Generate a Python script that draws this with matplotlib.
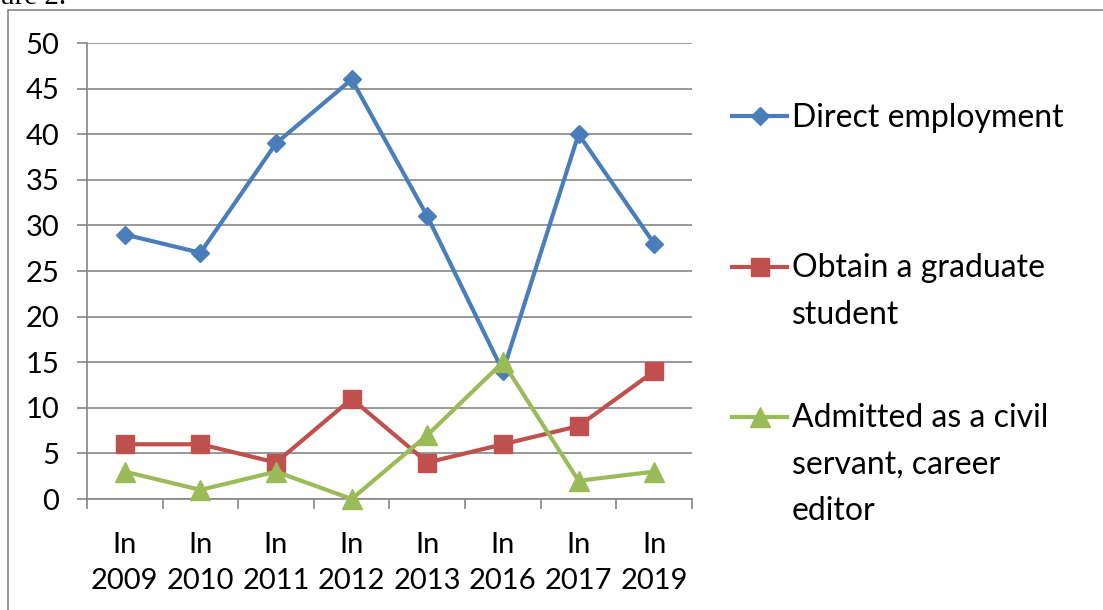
import matplotlib
matplotlib.use('Agg')
import matplotlib.pyplot as plt
from matplotlib.lines import Line2D
from matplotlib.patches import Rectangle

plt.rcParams['font.family'] = ['Lato', 'DejaVu Sans']

years = ['2009', '2010', '2011', '2012', '2013', '2016', '2017', '2019']
direct = [29, 27, 39, 46, 31, 14, 40, 28]
graduate = [6, 6, 4, 11, 4, 6, 8, 14]
civil = [3, 1, 3, 0, 7, 15, 2, 3]

labels = ['Direct employment', 'Obtain a graduate\nstudent',
          'Admitted as a civil\nservant, career\neditor']
colors = ['#4A7EBB', '#C0504D', '#9BBB59']
markers = ['D', 's', '^']
msizes = [9, 13, 14]
grey = '#868686'

W, H = 1103, 610
fig = plt.figure(figsize=(W / 100, H / 100), dpi=100)

# chart frame (runs off the right/bottom edge in the original)
fig.patches.append(Rectangle((8 / W, -0.1), 1.2, 1 - 10 / H + 0.1, transform=fig.transFigure,
                             fill=False, edgecolor=grey, linewidth=1.2))
fig.text(0.0, 1 - 4 / H, 'ure 2.', family='Liberation Serif', fontsize=21, va='baseline')

ax = fig.add_axes([87 / W, 1 - 499 / H, (692 - 87) / W, (499 - 43) / H])
xs = [i + 0.5 for i in range(len(years))]
series = [direct, graduate, civil]
for vals, c, m, ms in zip(series, colors, markers, msizes):
    ax.plot(xs, vals, color=c, marker=m, markersize=ms, linewidth=3, clip_on=False, zorder=3)

ax.set_xlim(0, len(years))
ax.set_ylim(0, 50)
ax.set_yticks(range(0, 51, 5))
ax.yaxis.grid(True, color=grey, linewidth=1.2)
ax.set_axisbelow(True)
for s in ['top', 'right']:
    ax.spines[s].set_visible(False)
for s in ['left', 'bottom']:
    ax.spines[s].set_color(grey)
    ax.spines[s].set_linewidth(1.2)

ax.set_xticks(range(len(years) + 1))
ax.set_xticklabels([])
ax.set_xticks(xs, minor=True)
ax.set_xticklabels(['In\n' + y for y in years], minor=True, fontsize=21, linespacing=1.44)
ax.tick_params(axis='x', which='major', length=7, width=1.2, color=grey, direction='out')
ax.tick_params(axis='x', which='minor', length=0, pad=24)
ax.tick_params(axis='y', length=7, width=1.2, color=grey, direction='out', labelsize=21, pad=13)

# legend drawn by hand so each entry sits where Excel put it
leg_y = [116, 267, 417]
for lab, c, m, ms, y in zip(labels, colors, markers, msizes, leg_y):
    fy = 1 - y / H
    fig.lines.append(Line2D([732 / W, 787 / W], [fy, fy], transform=fig.transFigure,
                            color=c, linewidth=3))
    fig.lines.append(Line2D([759.5 / W], [fy], transform=fig.transFigure, color=c,
                            marker=m, markersize=ms, linestyle='none'))
    nlines = lab.count('\n')
    fig.text(792 / W, 1 - (y + 11 + 46 * nlines) / H, lab, fontsize=23, va='baseline',
             linespacing=1.69, transform=fig.transFigure)

fig.savefig('out.png', dpi=100)
